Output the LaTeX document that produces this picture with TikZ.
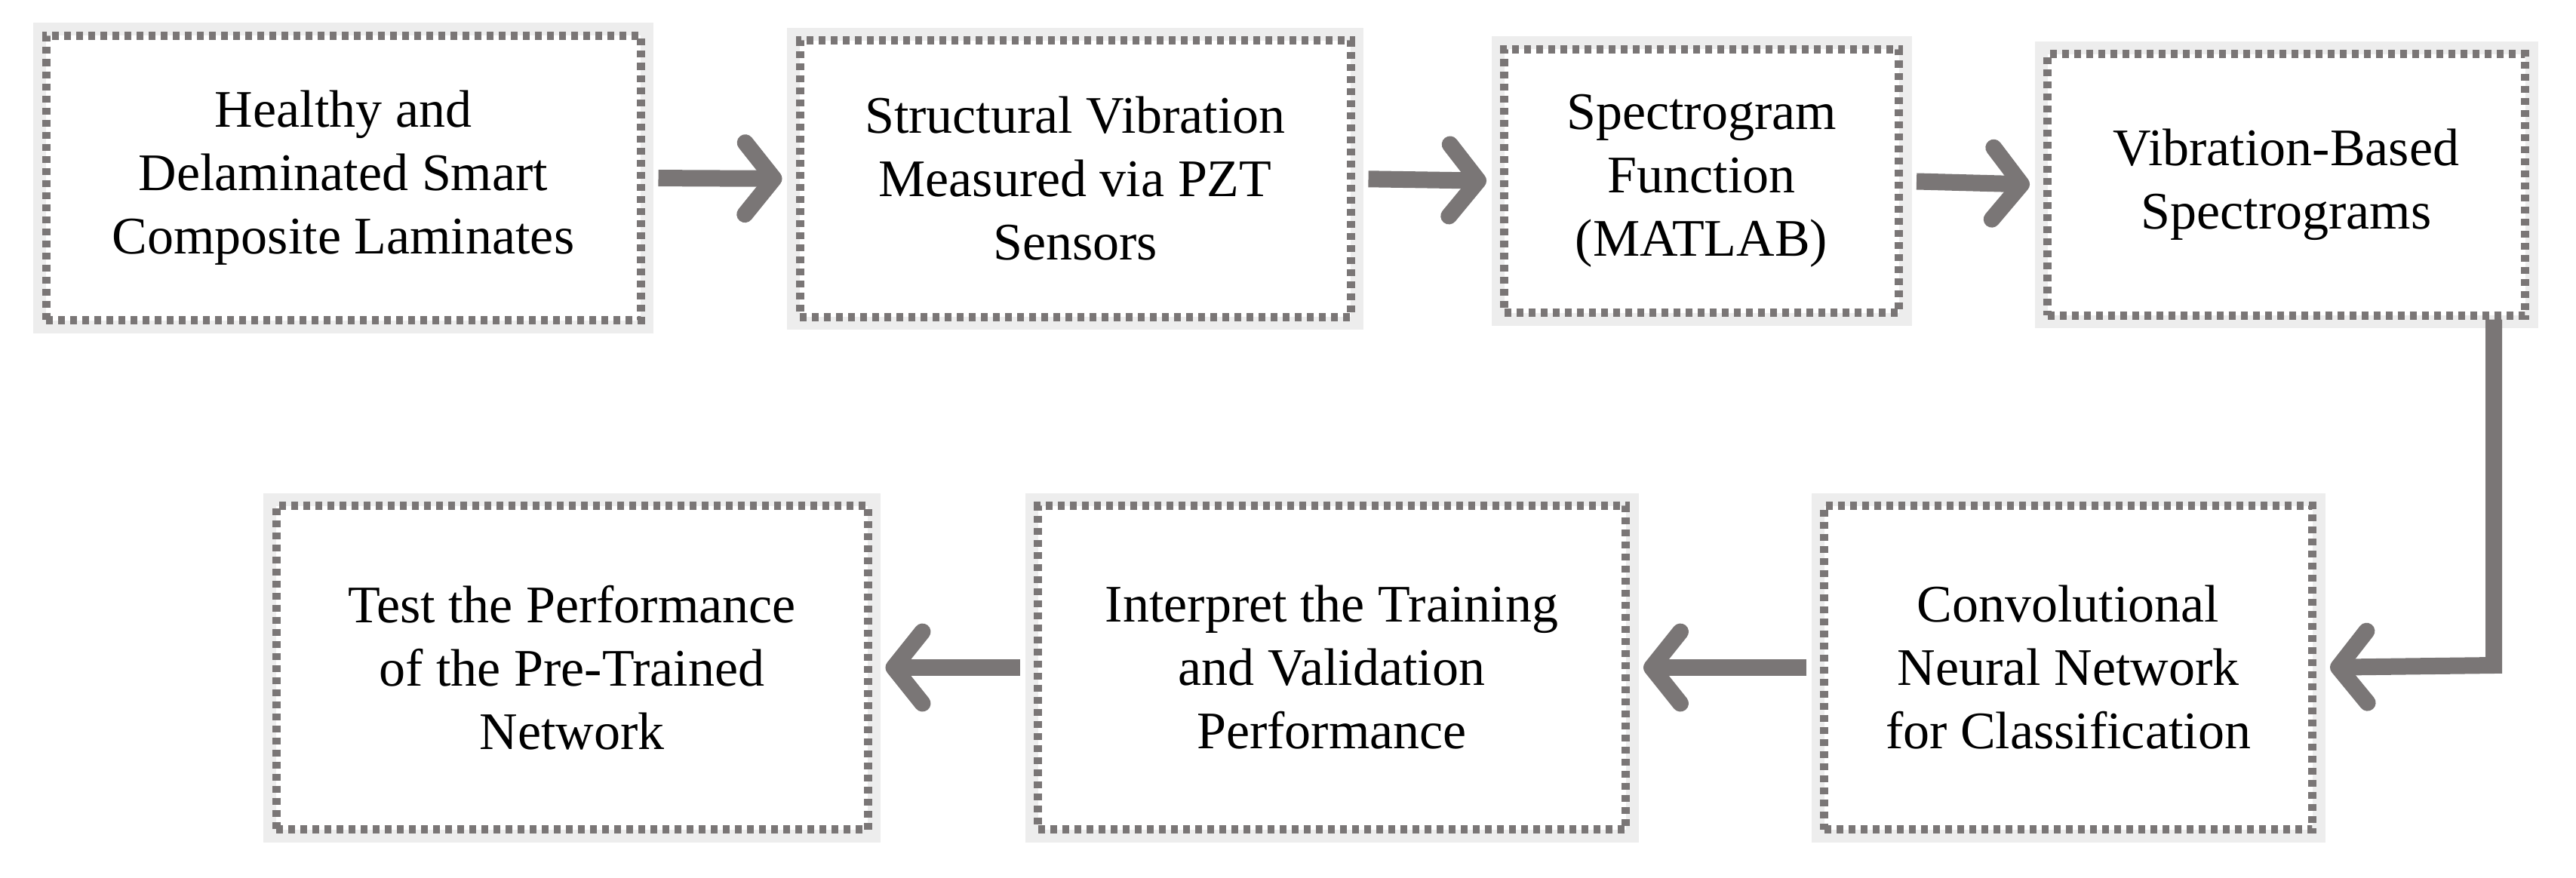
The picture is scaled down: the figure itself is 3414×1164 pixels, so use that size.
\documentclass[tikz,border=0pt]{standalone}
\usepackage{fontspec}
\setmainfont{Liberation Serif}
\usetikzlibrary{arrows.meta}
\definecolor{bd}{HTML}{7A7676}
\definecolor{glow}{HTML}{EDEDED}
\tikzset{
  stepbox/.style={draw=bd, line width=11pt, dash pattern=on 9pt off 7pt, fill=white,
    align=center, inner sep=0pt, font=\fontsize{70}{84}\selectfont,
    preaction={draw=glow, solid, line width=34pt}},
  flow/.style={draw=bd, line width=22pt, -{Straight Barb[length=38pt,width=95pt,line width=22pt,round]}, shorten >=18pt, shorten <=18pt}
}
\begin{document}
\begin{tikzpicture}[x=1pt,y=-1pt]
\useasboundingbox (0,0) rectangle (3414,1164);
\node[stepbox, minimum width=788pt, minimum height=377pt] (a) at (455,236) {Healthy and\\Delaminated Smart\\Composite Laminates};
\node[stepbox, minimum width=730pt, minimum height=366pt] (b) at (1425,237) {Structural Vibration\\Measured via PZT\\Sensors};
\node[stepbox, minimum width=523pt, minimum height=349pt] (c) at (2255,240) {Spectrogram\\Function\\(MATLAB)};
\node[stepbox, minimum width=633pt, minimum height=346pt] (d) at (3030,245) {Vibration-Based\\Spectrograms};
\node[stepbox, minimum width=784pt, minimum height=429pt] (e) at (758,885) {Test the Performance\\of the Pre-Trained\\Network};
\node[stepbox, minimum width=779pt, minimum height=429pt] (f) at (1765,885) {Interpret the Training\\and Validation\\Performance};
\node[stepbox, minimum width=647pt, minimum height=429pt] (g) at (2741,885) {Convolutional\\Neural Network\\for Classification};
\draw[flow] (a.east) -- (b.west);
\draw[flow] (b.east) -- (c.west);
\draw[flow] (c.east) -- (d.west);
\coordinate (k) at (3305,882);
\draw[flow, shorten <=0pt] (d.south -| k) -- (k) -- (g.east);
\draw[flow] (g.west) -- (f.east);
\draw[flow] (f.west) -- (e.east);
\end{tikzpicture}
\end{document}
